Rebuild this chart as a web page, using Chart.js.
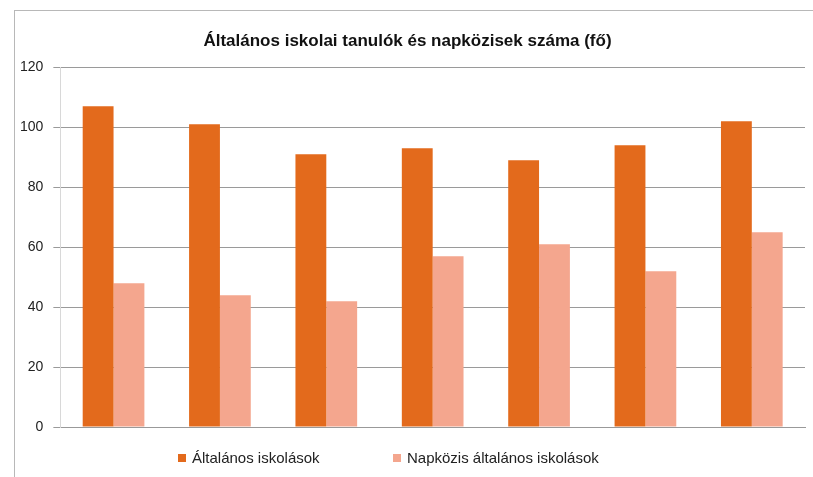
<!DOCTYPE html>
<html>
<head>
<meta charset="utf-8">
<script src="https://cdn.jsdelivr.net/npm/chart.js@4"></script>
<style>
  html, body { margin: 0; padding: 0; background: #fff; }
  #frame {
    position: absolute; left: 14px; top: 10px; width: 799px; height: 467px;
    border-left: 1px solid #b8b8b8; border-top: 1px solid #b8b8b8;
  }
  #chartCanvas { position: absolute; left: 10px; top: 11px; }
  #legend {
    position: absolute; left: 0; top: 448px; width: 813px; height: 20px;
    font-family: 'Liberation Sans', sans-serif; font-size: 15px; color: #222;
  }
  .item { position: absolute; top: 0; line-height: 20px; white-space: nowrap; }
  .item .box { display: inline-block; width: 8px; height: 8px; margin-right: 6px; vertical-align: 1px; }
</style>
</head>
<body>
<div id="frame"></div>
<canvas id="chartCanvas" width="803" height="466"></canvas>
<div id="legend"></div>
<script>
// --- data ---
const categories = ["1", "2", "3", "4", "5", "6", "7"];
const altalanos = [107, 101, 91, 93, 89, 94, 102];
const napkozis = [48, 44, 42, 57, 61, 52, 65];
const yTicks = [0, 20, 40, 60, 80, 100, 120];
const seriesNames = ["Általános iskolások", "Napközis általános iskolások"];
const seriesColors = ["#e36a1c", "#f4a68e"];

const fontFamily = "'Liberation Sans', sans-serif";

const canvas = document.getElementById("chartCanvas");

// html legend, built from the chart's datasets
const htmlLegend = {
  id: "htmlLegend",
  afterUpdate(chart) {
    const box = document.getElementById("legend");
    box.innerHTML = "";
    const lefts = [178, 393];
    chart.data.datasets.forEach((ds, i) => {
      const item = document.createElement("span");
      item.className = "item";
      item.style.left = lefts[i] + "px";
      const sq = document.createElement("span");
      sq.className = "box";
      sq.style.background = ds.backgroundColor;
      item.appendChild(sq);
      item.appendChild(document.createTextNode(ds.label));
      box.appendChild(item);
    });
  }
};

new Chart(canvas, {
  type: "bar",
  data: {
    labels: categories,
    datasets: [
      { label: seriesNames[0], data: altalanos, backgroundColor: seriesColors[0] },
      { label: seriesNames[1], data: napkozis, backgroundColor: seriesColors[1] }
    ]
  },
  plugins: [htmlLegend],
  options: {
    responsive: false,
    animation: false,
    layout: { padding: { left: 0, right: 8, top: 2, bottom: 42 } },
    datasets: { bar: { categoryPercentage: 0.58, barPercentage: 1.0 } },
    plugins: {
      title: {
        display: true,
        text: "Általános iskolai tanulók és napközisek száma (fő)",
        color: "#111",
        font: { family: fontFamily, size: 17, weight: "bold" },
        padding: { top: 18, bottom: 16 }
      },
      legend: { display: false },
      tooltip: { enabled: false }
    },
    scales: {
      x: {
        grid: { display: false },
        border: { color: "#999" },
        ticks: { display: false }
      },
      y: {
        min: 0, max: 120,
        afterBuildTicks: axis => { axis.ticks = yTicks.map(v => ({ value: v })); },
        grid: { color: "#9a9a9a", tickLength: 7 },
        border: { display: true, color: "#d8d8d8" },
        ticks: { color: "#222", font: { family: fontFamily, size: 14 }, padding: 10 }
      }
    }
  }
});
</script>
</body>
</html>
